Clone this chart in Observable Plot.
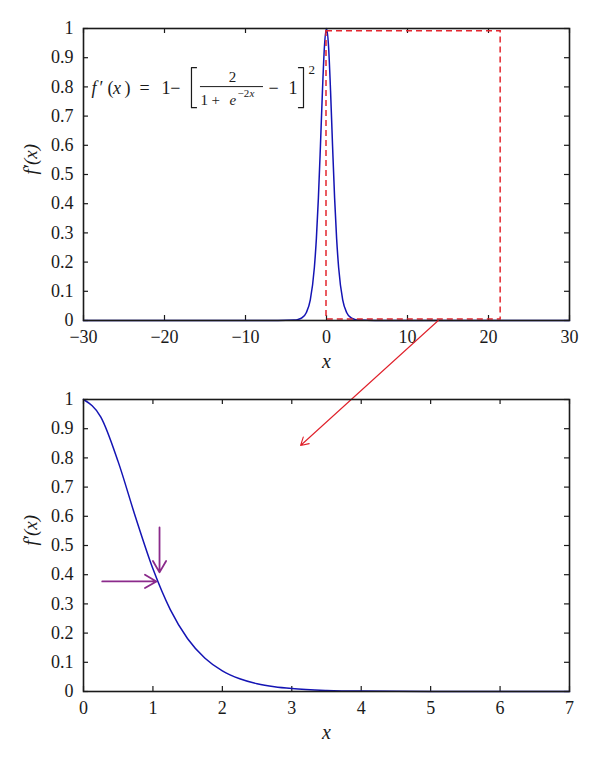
<!DOCTYPE html>
<html><head><meta charset="utf-8">
<script src="https://cdn.jsdelivr.net/npm/d3@7"></script>
<script src="https://cdn.jsdelivr.net/npm/@observablehq/plot@0.6"></script>
<style>
body{margin:0;background:#fff;}
#c{width:600px;}
#c svg{display:block;}
</style></head><body><div id="c"></div>
<script>
// ---- data ----
const topX = [-30, -6, -4, -3.5, -3, -2.5, -2, -1.5, -1.25, -1, -0.75, -0.5, -0.25, 0, 0.25, 0.5, 0.75, 1, 1.25, 1.5, 2, 2.5, 3, 3.5, 4, 6, 30];
const topY = [0, 0.00002, 0.0013, 0.0036, 0.0099, 0.0266, 0.0707, 0.1807, 0.2804, 0.42, 0.5966, 0.7864, 0.94, 1, 0.94, 0.7864, 0.5966, 0.42, 0.2804, 0.1807, 0.0707, 0.0266, 0.0099, 0.0036, 0.0013, 0.00002, 0];
const zoomX = [0, 0.25, 0.5, 0.75, 1, 1.25, 1.5, 1.75, 2, 2.25, 2.5, 2.75, 3, 3.5, 4, 5, 6, 7];
const zoomY = [1, 0.94, 0.7864, 0.5966, 0.42, 0.2804, 0.1807, 0.1138, 0.0707, 0.0436, 0.0266, 0.0162, 0.0099, 0.0036, 0.0013, 0.0002, 0, 0];
const topXTicks = [-30, -20, -10, 0, 10, 20, 30];
const zoomXTicks = [0, 1, 2, 3, 4, 5, 6, 7];
const yTicks = [0, 0.1, 0.2, 0.3, 0.4, 0.5, 0.6, 0.7, 0.8, 0.9, 1];
const yLabel = "f′(x)";
const xLabel = "x";
// annotations (data units)
const zoomBox = [{x1: 0, x2: 21.5, y1: 0.003, y2: 0.991}];
const redArrow = [{x1: 13.8, y1: 0, x2: -3.2, y2: -0.428}];
const purpleArrows = [
  {x1: 1.095, y1: 0.562, x2: 1.095, y2: 0.408},
  {x1: 0.27, y1: 0.377, x2: 1.05, y2: 0.377}
];
// formula pieces (top panel data units)
const fMainUpright = [
  {t: "′", x: -28.02, y: 0.795}, {t: "(", x: -27.05, y: 0.795}, {t: ")", x: -24.94, y: 0.795},
  {t: "=", x: -23.09, y: 0.795}, {t: "1", x: -20.37, y: 0.795}, {t: "−", x: -19.3, y: 0.795},
  {t: "−", x: -7.16, y: 0.795}, {t: "1", x: -4.69, y: 0.795}
];
const fMainItalic = [{t: "f", x: -29.01, y: 0.795}, {t: "x", x: -26.35, y: 0.795}];
const fNumerator = [{t: "2", x: -11.6, y: 0.832}];
const fDenUpright = [{t: "1", x: -15.56, y: 0.753}, {t: "+", x: -14.2, y: 0.753}];
const fDenItalic = [{t: "e", x: -11.98, y: 0.753}];
const fSupUpright = [{t: "−2", x: -10.99, y: 0.777}];
const fSupItalic = [{t: "x", x: -9.51, y: 0.777}];
const fSquare = [{t: "2", x: -2.22, y: 0.86}];
const fracBar = [{x1: -15.56, x2: -7.78, y: 0.801}];
const bracketL = {x: [-16.05, -16.67, -16.67, -16.05], y: [0.866, 0.866, 0.729, 0.729]};
const bracketR = {x: [-3.46, -2.84, -2.84, -3.46], y: [0.866, 0.866, 0.729, 0.729]};

const topData = topX.map((x, i) => ({x, y: topY[i]}));
const zoomData = zoomX.map((x, i) => ({x, y: zoomY[i]}));
const fmt = d3.format("");
const FONT = "Liberation Serif";
const BLUE = "#1414b4";
const INK = "#1a1a1a";

function ticksMarks(xt, xd) {
  const xs = (xd[1] - xd[0]) / 486 * 5;   // ~5px inward
  const ys = 1 / 292 * 5;
  return [
    Plot.ruleX(xt, {y1: 0, y2: ys, stroke: INK, strokeWidth: 1.2}),
    Plot.ruleX(xt, {y1: 1 - ys, y2: 1, stroke: INK, strokeWidth: 1.2}),
    Plot.ruleY(yTicks, {x1: xd[0], x2: xd[0] + xs, stroke: INK, strokeWidth: 1.2}),
    Plot.ruleY(yTicks, {x1: xd[1] - xs, x2: xd[1], stroke: INK, strokeWidth: 1.2})
  ];
}
function axes(xt) {
  return [
    Plot.axisX(xt, {tickSize: 0, tickPadding: 10, tickFormat: fmt, fontSize: 18, fontFamily: FONT, fill: INK, label: null}),
    Plot.axisY(yTicks, {tickSize: 0, tickPadding: 10, tickFormat: fmt, fontSize: 18, fontFamily: FONT, fill: INK, label: null}),
    Plot.text([yLabel], {frameAnchor: "left", dx: -53, rotate: -90, fontStyle: "italic", fontSize: 19, fontFamily: FONT, fill: INK}),
    Plot.text([xLabel], {frameAnchor: "bottom", dy: 47, fontStyle: "italic", fontSize: 20, fontFamily: FONT, fill: INK})
  ];
}
const txt = (arr, size, italic, anchor = "start") =>
  Plot.text(arr, {x: "x", y: "y", text: "t", textAnchor: anchor, fontSize: size, fontFamily: FONT, fontStyle: italic ? "italic" : "normal", fill: INK});

const topDomain = [-30, 30];
const topPlot = Plot.plot({
  width: 600, height: 383,
  marginLeft: 83, marginRight: 31, marginTop: 28, marginBottom: 63,
  x: {domain: topDomain},
  y: {domain: [0, 1]},
  style: {background: "transparent", fontFamily: FONT, overflow: "visible", color: INK},
  marks: [
    ...axes(topXTicks),
    ...ticksMarks(topXTicks, topDomain),
    Plot.line(topData, {x: "x", y: "y", stroke: BLUE, strokeWidth: 1.5, curve: "monotone-x"}),
    Plot.rect(zoomBox, {x1: "x1", x2: "x2", y1: "y1", y2: "y2", fill: "none", stroke: "#e3262e", strokeWidth: 1.5, strokeDasharray: "6,4"}),
    Plot.frame({stroke: INK, strokeWidth: 1.6}),
    txt(fMainUpright, 18, false), txt(fMainItalic, 18, true),
    txt(fNumerator, 15, false, "middle"), txt(fDenUpright, 15, false), txt(fDenItalic, 15, true),
    txt(fSupUpright, 11, false), txt(fSupItalic, 11, true), txt(fSquare, 13, false),
    Plot.ruleY(fracBar, {x1: "x1", x2: "x2", y: "y", stroke: INK, strokeWidth: 1}),
    Plot.line(bracketL.x.map((x, i) => ({x, y: bracketL.y[i]})), {x: "x", y: "y", stroke: INK, strokeWidth: 1.2}),
    Plot.line(bracketR.x.map((x, i) => ({x, y: bracketR.y[i]})), {x: "x", y: "y", stroke: INK, strokeWidth: 1.2}),
    Plot.arrow(redArrow, {x1: "x1", y1: "y1", x2: "x2", y2: "y2", stroke: "#e0202a", strokeWidth: 1.1, headLength: 12, headAngle: 60})
  ]
});

const zoomDomain = [0, 7];
const zoomPlot = Plot.plot({
  width: 600, height: 383,
  marginLeft: 83, marginRight: 31, marginTop: 16, marginBottom: 75,
  x: {domain: zoomDomain},
  y: {domain: [0, 1]},
  style: {background: "transparent", fontFamily: FONT, overflow: "visible", color: INK},
  marks: [
    ...axes(zoomXTicks),
    ...ticksMarks(zoomXTicks, zoomDomain),
    Plot.line(zoomData, {x: "x", y: "y", stroke: BLUE, strokeWidth: 1.5, curve: "monotone-x"}),
    Plot.frame({stroke: INK, strokeWidth: 1.6}),
    Plot.arrow(purpleArrows, {x1: "x1", y1: "y1", x2: "x2", y2: "y2", stroke: "#8b2a8b", strokeWidth: 1.8, headLength: 11, headAngle: 60})
  ]
});

for (const p of [topPlot, zoomPlot]) p.setAttribute("font-family", FONT);
const c = document.getElementById("c");
c.appendChild(topPlot);
c.appendChild(zoomPlot);
</script></body></html>
